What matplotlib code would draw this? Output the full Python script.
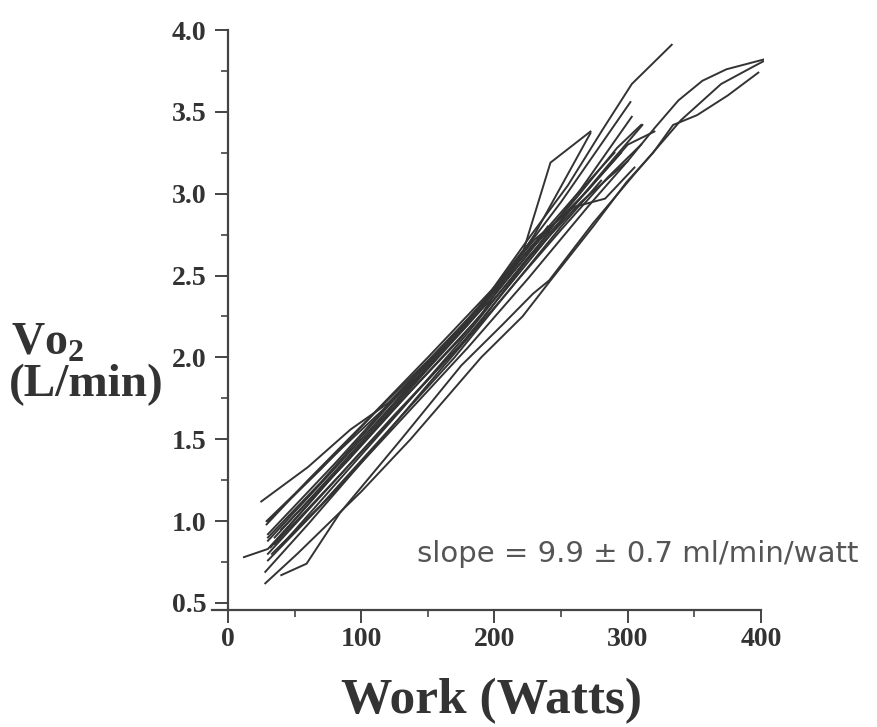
import matplotlib
matplotlib.use("Agg")
from matplotlib import pyplot as plt
from matplotlib.ticker import MultipleLocator, FormatStrFormatter

# Curvas individuales: trabajo (W) y Vo2 (L/min), leidas a ojo de la figura
w01 = [25, 60, 92, 120, 160, 200, 230, 260, 290]
v01 = [1.12, 1.33, 1.56, 1.72, 2.05, 2.42, 2.70, 2.98, 3.25]
w02 = [12, 30, 60, 100, 150, 200, 230, 262, 292, 310]
v02 = [0.78, 0.83, 1.10, 1.47, 1.93, 2.38, 2.68, 2.98, 3.28, 3.42]
w03 = [30, 70, 110, 150, 190, 225, 255, 281, 303, 333]
v03 = [1.00, 1.32, 1.66, 1.98, 2.32, 2.72, 3.05, 3.39, 3.67, 3.91]
w04 = [30, 80, 130, 180, 222, 242, 272]
v04 = [0.92, 1.35, 1.80, 2.22, 2.66, 3.19, 3.38]
w05 = [40, 90, 140, 190, 230, 272]
v05 = [0.95, 1.37, 1.82, 2.26, 2.75, 3.37]
w06 = [30, 80, 130, 170, 210, 250, 302]
v06 = [0.88, 1.32, 1.77, 2.13, 2.52, 2.95, 3.56]
w07 = [35, 85, 135, 185, 225, 265, 303]
v07 = [0.86, 1.29, 1.73, 2.17, 2.60, 3.03, 3.47]
w08 = [30, 75, 125, 175, 215, 260, 290, 311]
v08 = [0.80, 1.20, 1.65, 2.08, 2.48, 2.93, 3.22, 3.42]
w09 = [30, 80, 130, 180, 225, 270, 300, 320, 338, 356, 374, 402]
v09 = [0.76, 1.18, 1.62, 2.06, 2.48, 2.92, 3.20, 3.40, 3.57, 3.69, 3.76, 3.82]
w10 = [40, 59, 84, 130, 175, 206, 229, 241, 274, 305, 340, 370, 395, 402]
v10 = [0.67, 0.74, 1.05, 1.50, 1.95, 2.20, 2.39, 2.47, 2.82, 3.12, 3.45, 3.67, 3.78, 3.81]
w11 = [28, 52, 100, 137, 190, 221, 242, 274, 299, 319, 334, 352, 375, 398]
v11 = [0.62, 0.80, 1.18, 1.50, 2.00, 2.25, 2.47, 2.80, 3.07, 3.25, 3.42, 3.48, 3.60, 3.74]
w12 = [29, 60, 100, 150, 200, 230, 260, 283, 305]
v12 = [0.98, 1.25, 1.58, 2.00, 2.43, 2.72, 2.92, 2.97, 3.16]
w13 = [28, 60, 110, 160, 210, 250, 280]
v13 = [0.69, 0.98, 1.45, 1.93, 2.40, 2.80, 3.08]
w14 = [30, 70, 120, 170, 220, 240]
v14 = [0.90, 1.24, 1.70, 2.14, 2.58, 2.80]
w15 = [32, 75, 125, 175, 225, 265, 300]
v15 = [0.84, 1.24, 1.69, 2.12, 2.60, 2.95, 3.20]
w16 = [35, 80, 130, 180, 228, 270, 300, 320]
v16 = [0.90, 1.30, 1.76, 2.20, 2.68, 3.02, 3.30, 3.38]
w17 = [29, 86, 140, 190, 228]
v17 = [1.00, 1.45, 1.86, 2.30, 2.72]
w18 = [33, 70, 120, 170, 215, 250, 285, 310]
v18 = [0.80, 1.10, 1.55, 2.00, 2.45, 2.78, 3.10, 3.30]
w19 = [40, 80, 130, 180, 226, 262, 295]
v19 = [0.85, 1.22, 1.68, 2.15, 2.62, 2.95, 3.25]

curvas = [(w01, v01), (w02, v02), (w03, v03), (w04, v04), (w05, v05),
          (w06, v06), (w07, v07), (w08, v08), (w09, v09), (w10, v10),
          (w11, v11), (w12, v12), (w13, v13), (w14, v14), (w15, v15),
          (w16, v16), (w17, v17), (w18, v18), (w19, v19)]

texto = "slope = 9.9 \u00b1 0.7 ml/min/watt"
gris = "#333333"
serif = ["Liberation Serif", "DejaVu Serif"]

plt.rcParams["mathtext.fontset"] = "custom"
plt.rcParams["mathtext.rm"] = "Liberation Serif"
plt.rcParams["mathtext.bf"] = "Liberation Serif:bold"

fig = plt.figure(figsize=(8.77, 7.27), dpi=100)
ax = fig.add_axes([0.2417, 0.1616, 0.6291, 0.7971])

for w, v in curvas:
    ax.plot(w, v, color=gris, lw=1.4, solid_joinstyle="miter")

ax.set_xlim(-12, 402)
ax.set_ylim(0.46, 4.0)

for s in ["top", "right"]:
    ax.spines[s].set_visible(False)
ax.spines["left"].set_position(("data", 0))
ax.spines["left"].set_bounds(0.46, 4.0)
ax.spines["bottom"].set_bounds(-12, 400)
for s in ["left", "bottom"]:
    ax.spines[s].set_color("#444444")
    ax.spines[s].set_linewidth(1.6)

ax.xaxis.set_major_locator(MultipleLocator(100))
ax.xaxis.set_minor_locator(MultipleLocator(50))
ax.yaxis.set_major_locator(MultipleLocator(0.5))
ax.yaxis.set_minor_locator(MultipleLocator(0.25))
ax.yaxis.set_major_formatter(FormatStrFormatter("%.1f"))
ax.tick_params(which="major", direction="out", length=9.5, width=1.4,
               color="#444444", labelsize=20, labelcolor="#333333")
ax.tick_params(which="minor", direction="out", length=5, width=1.2,
               color="#444444")
ax.tick_params(axis="y", which="major", pad=6)
ax.tick_params(axis="x", which="major", pad=3)
for lab in ax.get_xticklabels() + ax.get_yticklabels():
    lab.set_family(serif)
    lab.set_fontweight("bold")

ax.text(142, 0.80, texto, fontsize=21, color="#555555",
        family="DejaVu Sans", ha="left", va="center")

fig.text(0.012, 0.528, r"Vo$_{\mathbf{2}}$", fontsize=33, fontweight="bold",
         family=serif, color="#333333", ha="left", va="center")
fig.text(0.010, 0.47, "(L/min)", fontsize=34, fontweight="bold",
         family=serif, color="#333333", ha="left", va="center")
fig.text(0.561, 0.019, "Work (Watts)", fontsize=37, fontweight="bold",
         family=serif, color="#333333", ha="center", va="baseline")

fig.savefig("out.png", dpi=100)
